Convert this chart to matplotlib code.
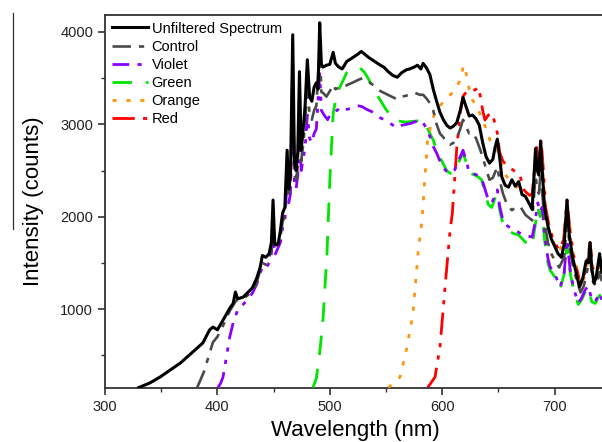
import matplotlib
matplotlib.use("Agg")
import matplotlib.pyplot as plt
from matplotlib.lines import Line2D
from matplotlib.ticker import MultipleLocator

plt.rcParams['font.family'] = ['Liberation Sans', 'DejaVu Sans']

# unfiltered lamp spectrum
wl_unf = [330, 340, 349, 358, 367, 378, 387, 393, 396, 400, 405, 411, 414, 416, 418,
          423, 431, 435, 438, 440, 443, 446, 448, 449.5, 451, 454, 456, 458, 460, 462,
          463.5, 465, 467, 468.5, 470, 471.5, 473, 474.5, 476, 478, 480, 482, 484, 486,
          488, 489.5, 491, 492.5, 494, 497, 500, 503, 505, 508, 511, 515, 520, 525, 528,
          531, 535, 540, 545, 548, 552, 556, 560, 564, 568, 571, 575, 578, 581, 583, 586,
          589, 592, 595, 598, 601, 604, 607, 610, 613, 616, 618.5, 621, 624, 627, 630,
          633, 636, 639, 642, 645, 647, 649, 651, 653, 656, 659, 662, 665, 668, 671, 674,
          677, 680, 681.5, 683, 684.5, 686, 687.5, 689, 691, 694, 697, 700, 703, 706,
          708.5, 711, 713, 716, 719, 722, 725, 728, 730, 731.5, 733, 735, 737, 740, 742]
I_unf = [150, 200, 264, 340, 415, 534, 632, 773, 805, 775, 880, 1010, 1060, 1184, 1110,
         1130, 1228, 1336, 1450, 1580, 1560, 1600, 1720, 2180, 1700, 1700, 1850, 2040, 2100, 2720,
         2300, 2450, 3970, 2600, 2500, 2700, 3570, 2720, 2900, 3200, 3700, 3300, 3250, 3400,
         3450, 3380, 4100, 3650, 3620, 3640, 3650, 3780, 3660, 3620, 3600, 3680, 3720, 3760, 3790,
         3760, 3720, 3680, 3640, 3620, 3570, 3530, 3510, 3560, 3590, 3600, 3620, 3640, 3600, 3660, 3610,
         3540, 3380, 3250, 3130, 3050, 2990, 2960, 2980, 3020, 3150, 3290, 3200, 3090, 3100, 3060,
         2990, 2800, 2650, 2580, 2620, 2750, 2840, 2650, 2430, 2340, 2320, 2400, 2330, 2380, 2240, 2220,
         2150, 2080, 2400, 2740, 2500, 2450, 2820, 2500, 2100, 1900, 1760, 1680, 1600, 1560,
         1700, 2180, 1800, 1560, 1400, 1240, 1330, 1520, 1500, 1720, 1450, 1280, 1350, 1600, 1400]

wl_ctl = [382, 388, 393, 396, 400, 405, 411, 416, 418, 423, 431, 435, 440, 443, 446, 448,
          449.5, 451, 456, 458, 460, 462, 463.5, 465, 467, 468.5, 470, 471.5, 473, 474.5, 476,
          478, 480, 482, 484, 486, 488, 491, 492.5, 494, 497, 500, 503, 505, 508, 512, 516, 520,
          525, 529, 533, 537, 541, 545, 550, 555, 560, 564, 568, 572, 576, 580, 583, 586, 589,
          592, 595, 598, 601, 604, 607, 610, 613, 616, 618.5, 621, 624, 627, 630, 634, 638, 642,
          645, 647, 649, 651, 654, 658, 662, 666, 670, 674, 678, 680, 681.5, 683, 684.5, 686,
          687.5, 689, 691, 694, 697, 700, 704, 708.5, 711, 714, 717, 720, 723, 726, 729, 731.5,
          734, 737, 740, 742]
I_ctl = [150, 320, 520, 640, 700, 820, 980, 1080, 1100, 1110, 1190, 1290, 1500, 1480, 1550, 1650,
         1950, 1650, 1780, 1950, 2000, 2550, 2200, 2350, 3700, 2450, 2400, 2550, 3350, 2600, 2750,
         3000, 3450, 3100, 3050, 3150, 3200, 3850, 3350, 3340, 3300, 3360, 3430, 3380, 3400, 3400, 3430, 3450,
         3480, 3500, 3480, 3440, 3400, 3360, 3330, 3300, 3270, 3300, 3310, 3330, 3340, 3320, 3320, 3280, 3230,
         3150, 3000, 2900, 2860, 2800, 2780, 2800, 2850, 2950, 3050, 2980, 2900, 2910, 2850, 2720, 2560, 2400,
         2420, 2480, 2540, 2400, 2250, 2120, 2070, 2110, 2100, 2020, 1980, 1960, 2200, 2450, 2300, 2250,
         2480, 2250, 1950, 1720, 1600, 1530, 1450, 1560, 1960, 1620, 1420, 1300, 1180, 1250, 1420, 1560,
         1300, 1250, 1400, 1300]

wl_vio = [400.5, 403, 405, 408, 411, 414, 418, 421, 425, 431, 435, 440, 443, 446, 448, 449.5,
          451, 456, 458, 460, 462, 463.5, 465, 467, 468.5, 470, 471.5, 473, 474.5, 476, 478, 480,
          482, 484, 486, 488, 491, 492.5, 495, 498, 501, 504, 507, 510, 514, 518, 522, 526, 529,
          533, 537, 541, 545, 550, 555, 560, 564, 568, 572, 576, 580, 583, 586, 589, 592, 595,
          598, 601, 604, 607, 611, 615, 618.5, 621, 624, 627, 631, 635, 638, 641, 644, 647, 649,
          651, 654, 658, 663, 668, 672, 676, 680, 682, 685, 687, 689, 691, 694, 696, 700, 705,
          708.5, 711, 714, 717, 721, 724, 727, 730, 733, 736, 740, 742]
I_vio = [150, 200, 264, 480, 700, 850, 990, 1020, 1080, 1170, 1270, 1460, 1440, 1500, 1600, 1850,
         1580, 1720, 1880, 1950, 2400, 2150, 2250, 3300, 2350, 2300, 2450, 3000, 2500, 2600, 2750, 3100,
         2850, 2800, 2900, 2950, 3550, 3150, 3100, 3050, 3120, 3130, 3160, 3130, 3160, 3170, 3190, 3200, 3190,
         3160, 3140, 3100, 3070, 3040, 3000, 2960, 2990, 3000, 3010, 3030, 3000, 3020, 2950, 2870, 2760, 2690,
         2600, 2530, 2490, 2470, 2505, 2620, 2720, 2620, 2480, 2470, 2450, 2420, 2300, 2180, 2150, 2230, 2290,
         2120, 1960, 1900, 1860, 1830, 1800, 1790, 1780, 1900, 2150, 2050, 2105, 1800, 1550, 1455, 1380, 1240,
         1400, 1750, 1400, 1220, 1065, 1120, 1206, 1250, 1100, 1080, 1174, 1100]

wl_grn = [485, 488, 491, 494, 497.5, 500, 503, 506, 509, 512, 515, 519, 523, 527, 531, 534,
          538, 542, 545, 550, 555, 560, 564, 568, 572, 576, 580, 583, 586, 589, 592, 595, 598,
          601, 604, 607, 611, 615, 618.5, 621, 624, 627, 631, 635, 638, 641, 644, 647, 649, 651,
          654, 658, 663, 668, 672, 676, 680, 682, 685, 687, 689, 691, 694, 696, 700, 705, 708.5,
          711, 714, 717, 721, 724, 727, 730, 733, 736, 740, 742]
I_grn = [150, 250, 524, 900, 1607, 2400, 3120, 3320, 3405, 3480, 3560, 3590, 3600, 3610, 3560, 3500,
         3400, 3320, 3260, 3160, 3080, 3040, 3030, 3025, 3030, 3035, 3040, 3047, 2980, 2900, 2830, 2720, 2640,
         2570, 2500, 2470, 2480, 2600, 2690, 2600, 2480, 2460, 2440, 2400, 2260, 2130, 2100, 2200, 2250, 2080,
         1920, 1850, 1820, 1800, 1750, 1700, 1680, 1850, 2100, 2000, 2080, 1750, 1500, 1420, 1350, 1220, 1380,
         1700, 1380, 1200, 1050, 1100, 1180, 1230, 1080, 1060, 1150, 1080]

wl_org = [552, 557, 562.5, 568.7, 574, 578.5, 582, 585, 587, 591, 595, 600, 604, 608, 613, 616,
          618.5, 620, 622, 624, 627, 631, 635, 639, 642.5, 646, 649, 651, 654, 657, 660, 664, 668,
          672, 676, 680, 682, 684, 686, 688, 690, 693, 696, 700, 704, 708, 711, 714, 717, 720,
          723, 726, 729, 731.5, 734, 737, 740, 742]
I_org = [150, 200, 264, 590, 957, 1607, 1964, 2500, 2830, 3050, 3155, 3230, 3285, 3330, 3405, 3480,
         3610, 3640, 3500, 3380, 3264, 3180, 3080, 2950, 2830, 2770, 2722, 2650, 2505, 2440, 2397, 2350, 2300,
         2240, 2190, 2150, 2450, 2700, 2480, 2780, 2400, 1950, 1800, 1700, 1620, 1720, 2150, 1780, 1550, 1400,
         1250, 1330, 1500, 1700, 1400, 1320, 1520, 1380]

wl_red = [587, 590, 593.6, 598, 602.5, 607, 609, 613, 616, 618.5, 620, 622, 625, 627, 630, 632,
          634, 636, 638, 641, 644, 646, 649, 651, 654, 657, 660, 663, 666, 669, 672, 675, 678,
          680, 682, 684, 686, 688, 690, 692, 695, 698, 701, 704, 708, 711, 714, 717, 720, 723,
          726, 729, 731.5, 734, 737, 740, 742]
I_red = [150, 200, 264, 590, 1238, 1856, 2040, 2755, 3123, 3300, 3330, 3350, 3340, 3360, 3380, 3405,
         3300, 3150, 3047, 3100, 3123, 3050, 2906, 2700, 2600, 2560, 2530, 2505, 2480, 2460, 2300, 2260, 2230,
         2250, 2500, 2750, 2550, 2830, 2500, 2100, 1900, 1780, 1700, 1640, 1750, 2180, 1820, 1580, 1420, 1260,
         1350, 1530, 1720, 1450, 1340, 1540, 1420]

fig = plt.figure(figsize=(6.02, 4.42), dpi=100)
ax = fig.add_axes([105/602, 54/442, 500/602, 373/442])

ax.plot(wl_unf, I_unf, color='black', lw=2.2, label='Unfiltered Spectrum', zorder=6)
ax.plot(wl_ctl, I_ctl, color='#4a4a4a', lw=1.9, dashes=(7, 3, 2, 3), label='Control', zorder=5)
ax.plot(wl_vio, I_vio, color='#8a00ff', lw=2.0, dashes=(6, 3, 1.5, 3, 1.5, 3), label='Violet', zorder=4)
ax.plot(wl_grn, I_grn, color='#00e600', lw=2.0, dashes=(7, 5), label='Green', zorder=3)
ax.plot(wl_org, I_org, color='#ff9410', lw=2.0, dashes=(1.5, 3.5), label='Orange', zorder=3)
ax.plot(wl_red, I_red, color='#ff0000', lw=2.0, dashes=(8, 3, 1.5, 3, 1.5, 3), label='Red', zorder=2)

ax.set_xlim(300, 744.8)
ax.set_ylim(145, 4184)
ax.xaxis.set_major_locator(MultipleLocator(100))
ax.xaxis.set_minor_locator(MultipleLocator(50))
ax.yaxis.set_major_locator(MultipleLocator(1000))
ax.yaxis.set_minor_locator(MultipleLocator(500))
ax.tick_params(which='both', direction='out', top=False, right=False, labelsize=10.5,
               color='#333333', labelcolor='#222222')
ax.tick_params(which='major', length=5, width=1.2)
ax.tick_params(which='minor', length=3, width=1.0)
for s in ax.spines.values():
    s.set_linewidth(1.3)
    s.set_color('#333333')

ax.set_xlabel('Wavelength (nm)', fontsize=16, labelpad=4.5)
ax.set_ylabel('Intensity (counts)', fontsize=16, labelpad=12)

ax.legend(loc='upper left', frameon=False, fontsize=10.5, handlelength=2.5,
          handletextpad=0.25, labelspacing=0.28, borderaxespad=0.35, borderpad=0.1)

# stray edge line in the left margin
fig.add_artist(Line2D([13/602, 13/602], [1 - 13/442, 1 - 229/442], color='#333333', lw=0.9))

fig.savefig('out.png', dpi=100)
